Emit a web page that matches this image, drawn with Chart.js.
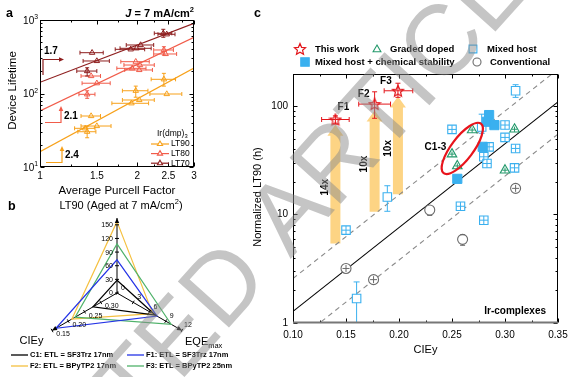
<!DOCTYPE html>
<html lang="en">
<head>
<meta charset="UTF-8">
<title>Device lifetime / radar / LT90 vs CIEy</title>
<script src="https://cdn.jsdelivr.net/npm/chart.js"></script>
<style>
  body { margin: 0; background: #fff; }
  #fig { position: relative; width: 583px; height: 377px; overflow: hidden; }
  #fig canvas { position: absolute; left: 0; top: 0; }
</style>
</head>
<body>
<div id="fig">
  <canvas id="chartA" width="583" height="377"></canvas>
  <canvas id="chartB" width="583" height="377"></canvas>
  <canvas id="chartC" width="583" height="377"></canvas>
  <canvas id="stamp" width="583" height="377"></canvas>
</div>
<script>
const FONT = "'Liberation Sans', Arial, Helvetica, sans-serif";
Chart.defaults.font.family = FONT;
Chart.defaults.color = '#000';
Chart.defaults.animation = false;
Chart.defaults.events = [];
Chart.defaults.plugins.legend.display = false;
Chart.defaults.plugins.tooltip.enabled = false;

// ---------- panel a : lifetime vs average Purcell factor ----------
const purcellTicks = [1, 1.5, 2, 2.5, 3];
const purcellMinor = [1.25, 1.75, 2.25, 2.75];
const lifeTicks = [10, 100, 1000];
const lifeMinor = [20, 30, 40, 50, 60, 70, 80, 90, 200, 300, 400, 500, 600, 700, 800, 900];

const lt90X = [1.38, 1.40, 1.50, 1.44, 1.92, 2.03, 1.98, 2.42, 2.47];
const lt90Y = [33.6, 30.2, 36.1, 49.4, 73.6, 81.6, 109, 156, 98.4];
const lt90Xerr = [0.10, 0.09, 0.16, 0.10, 0.25, 0.23, 0.18, 0.21, 0.28];
const lt90YLo = [null, 25, null, null, null, null, 89, 126, null];
const lt90YHi = [null, 36, null, null, null, null, 126, 188, null];

const lt80X = [1.40, 1.44, 1.50, 1.93, 1.98, 2.04, 2.03, 2.42, 2.45];
const lt80Y = [97.5, 173, 138, 220, 271, 244, 209, 391, 345];
const lt80Xerr = [0.08, 0.10, 0.15, 0.20, 0.20, 0.22, 0.20, 0.17, 0.20];
const lt80YLo = [86, null, null, null, null, null, null, 334, null];
const lt80YHi = [109, null, null, null, null, null, null, 433, null];

const lt70X = [1.45, 1.50, 1.40, 1.91, 1.99, 2.05, 2.41, 2.47];
const lt70Y = [359, 277, 202, 399, 412, 457, 659, 639];
const lt70Xerr = [0.12, 0.14, 0.10, 0.20, 0.22, 0.20, 0.15, 0.15];
const lt70YLo = [null, null, 173, null, null, null, 582, null];
const lt70YHi = [null, null, 224, null, null, null, 747, null];

const fitX = [1, 3];
const fit90 = [16.1, 222];
const fit80 = [58, 582];
const fit70 = [142, 900];

// ---------- panel b : radar ----------
const radarAxes = ['LT90', 'EQEmax', 'CIEy'];
const devNames = ['C1: ETL = SF3Trz 17nm', 'F1: ETL = SF3Trz 17nm', 'F2: ETL = BPyTP2 17nm', 'F3: ETL = BPyTP2 25nm'];
const devLT90 = [28, 73, 157, 108];
const devEQE = [7.1, 7.4, 6.6, 10.0];
const devCIEy = [0.276, 0.162, 0.211, 0.221];
const lt90Ticks = [0, 30, 60, 90, 120, 150];
const eqeTicks = [0, 3, 6, 9, 12];
const cieyTicks = [0.30, 0.25, 0.20, 0.15];

// ---------- panel c : normalized LT90 vs CIEy ----------
const cieTicks = [0.10, 0.15, 0.20, 0.25, 0.30, 0.35];
const cieMinor = [0.125, 0.175, 0.225, 0.275, 0.325];
const ltTicks = [1, 10, 100];
const ltMinor = [2, 3, 4, 5, 6, 7, 8, 9, 20, 30, 40, 50, 60, 70, 80, 90];

const workNames = ['F1', 'F2', 'F3'];
const workX = [0.140, 0.177, 0.199];
const workY = [75, 104, 138];
const workXLo = [0.127, 0.162, 0.186];
const workXHi = [0.153, 0.192, 0.213];
const workYLo = [68, 77, 120];
const workYHi = [81, 135, 162];

const boostFrom = [5.4, 10.6, 15.4];
const boostTo = [67, 91, 122];
const boostText = ['14x', '10x', '10x'];

const gradedX = [0.269, 0.250, 0.255, 0.309, 0.300];
const gradedY = [60, 36, 28, 61, 25.6];

const mixedX = [0.310, 0.278, 0.189, 0.160];
const mixedY = [138, 64, 14.5, 1.68];
const mixedYLo = [120, 56, 10.7, 0.8];
const mixedYHi = [157, 84, 18.4, 2.39];

const hostX = [0.250, 0.285, 0.280, 0.283, 0.300, 0.300, 0.310, 0.309, 0.258, 0.280, 0.150];
const hostY = [60.8, 42, 34, 29.5, 66.7, 51.3, 40.6, 26.9, 11.9, 8.86, 7.17];

const chemX = [0.285, 0.283, 0.290, 0.279, 0.255];
const chemY = [82.4, 71.5, 66.6, 42, 21.3];

const convX = [0.310, 0.229, 0.260, 0.150, 0.176];
const convY = [17.4, 11, 5.9, 3.18, 2.51];
const convYLo = [null, 9.8, 5.2, null, null];
const convYHi = [null, null, 6.5, null, null];
const convCross = [true, false, false, true, true];

const refX = [0.10, 0.35];
const refMid = [1.28, 109];
const refHigh = [2.57, 218];
const refLow = [0.64, 55];

const c13 = {x: 0.2597, y: 40.6};

// ---------- helpers ----------
function pts(xs, ys) { return xs.map((x, i) => ({x, y: ys[i]})); }
function seg(ctx, x1, y1, x2, y2) { ctx.beginPath(); ctx.moveTo(x1, y1); ctx.lineTo(x2, y2); ctx.stroke(); }
function fnt(size, bold, italic) { return `${italic ? 'italic ' : ''}${bold ? 'bold ' : ''}${size}px ${FONT}`; }
function text(ctx, s, x, y, size, o = {}) {
  ctx.font = fnt(size, o.bold, o.italic);
  ctx.fillStyle = o.color || '#000';
  ctx.textAlign = o.align || 'left';
  ctx.textBaseline = 'middle';
  ctx.fillText(s, x, y);
}
function rich(ctx, parts, x, y, size, align = 'left', bold = false) {
  ctx.textAlign = 'left'; ctx.textBaseline = 'middle'; ctx.fillStyle = '#000';
  const fontOf = p => fnt(p.sup || p.sub ? size * 0.68 : size, p.bold ?? bold, p.italic);
  const w = parts.map(p => { ctx.font = fontOf(p); return ctx.measureText(p.t).width; });
  const total = w.reduce((s, v) => s + v, 0);
  let cx = align === 'center' ? x - total / 2 : align === 'right' ? x - total : x;
  parts.forEach((p, i) => {
    ctx.font = fontOf(p);
    ctx.fillText(p.t, cx, y + (p.sup ? -size * 0.38 : p.sub ? size * 0.32 : 0));
    cx += w[i];
  });
}
function head(ctx, x, y, ang, len, wid) {
  const c = Math.cos(ang), s = Math.sin(ang);
  ctx.beginPath();
  ctx.moveTo(x, y);
  ctx.lineTo(x - len * c - wid * s, y - len * s + wid * c);
  ctx.lineTo(x - len * c + wid * s, y - len * s - wid * c);
  ctx.closePath(); ctx.fill();
}
function marker(ctx, style, x, y, r, stroke, fill) {
  ctx.save();
  ctx.strokeStyle = stroke; ctx.fillStyle = fill; ctx.lineWidth = 1.1;
  ctx.beginPath();
  if (style === 'rect') { const h = r * Math.SQRT1_2; ctx.rect(x - h, y - h, 2 * h, 2 * h); }
  else if (style === 'triangle') { for (let k = 0; k < 3; k++) { const a = -Math.PI / 2 + k * 2 * Math.PI / 3; ctx.lineTo(x + r * Math.cos(a), y + r * Math.sin(a)); } ctx.closePath(); }
  else { ctx.arc(x, y, r, 0, 2 * Math.PI); }
  ctx.fill(); ctx.stroke();
  ctx.restore();
}
function starImage(color, size) {
  const c = document.createElement('canvas');
  c.width = c.height = size;
  const g = c.getContext('2d');
  const m = size / 2, R = m - 1, r = R * 0.45;
  g.beginPath();
  for (let k = 0; k < 10; k++) {
    const a = -Math.PI / 2 + k * Math.PI / 5, rr = k % 2 ? r : R;
    g.lineTo(m + rr * Math.cos(a), m + 0.5 + rr * Math.sin(a));
  }
  g.closePath();
  g.fillStyle = '#fff'; g.fill();
  g.strokeStyle = color; g.lineWidth = 1.2; g.stroke();
  return c;
}
function frame(chart, xMaj, xMin, yMaj, yMin, bottomColor) {
  const {ctx, chartArea: a, scales: {x, y}} = chart;
  const L = Math.round(a.left) + 0.5, R = Math.round(a.right) - 0.5;
  const T = Math.round(a.top) + 0.5, B = Math.round(a.bottom) - 0.5;
  ctx.save();
  ctx.strokeStyle = '#000'; ctx.lineWidth = 1;
  ctx.strokeRect(L, T, R - L, B - T);
  const tx = (vals, len) => vals.forEach(v => { const p = Math.round(x.getPixelForValue(v)) + 0.5; seg(ctx, p, B, p, B - len); seg(ctx, p, T, p, T + len); });
  const ty = (vals, len) => vals.forEach(v => { const p = Math.round(y.getPixelForValue(v)) + 0.5; seg(ctx, L, p, L + len, p); seg(ctx, R, p, R - len, p); });
  tx(xMaj, 4); tx(xMin, 2); ty(yMaj, 4); ty(yMin, 2);
  if (bottomColor) { ctx.strokeStyle = bottomColor; ctx.lineWidth = 2; seg(ctx, L - 0.5, B, R + 0.5, B); }
  ctx.restore();
}

// error bars drawn from each dataset's err arrays, through the chart's scales
const errorBars = {
  id: 'errorBars',
  afterDatasetsDraw(chart) {
    const {ctx, chartArea: a, scales: {x, y}} = chart;
    ctx.save();
    ctx.beginPath(); ctx.rect(a.left, a.top, a.width, a.height); ctx.clip();
    chart.data.datasets.forEach(ds => {
      const e = ds.err; if (!e) return;
      ctx.strokeStyle = e.color || ds.borderColor; ctx.lineWidth = 1;
      const cap = e.cap ?? 2.5, gap = e.gap ?? 0;
      ds.data.forEach((p, i) => {
        const px = x.getPixelForValue(p.x), py = y.getPixelForValue(p.y);
        if (e.xLo && e.xLo[i] != null) {
          const l = x.getPixelForValue(e.xLo[i]), r = x.getPixelForValue(e.xHi[i]);
          seg(ctx, l, py, px - gap, py); seg(ctx, px + gap, py, r, py);
          seg(ctx, l, py - cap, l, py + cap); seg(ctx, r, py - cap, r, py + cap);
        }
        if (e.yLo && e.yLo[i] != null) {
          const b = y.getPixelForValue(e.yLo[i]);
          seg(ctx, px, py + gap, px, b); seg(ctx, px - cap, b, px + cap, b);
        }
        if (e.yHi && e.yHi[i] != null) {
          const t = y.getPixelForValue(e.yHi[i]);
          seg(ctx, px, py - gap, px, t); seg(ctx, px - cap, t, px + cap, t);
        }
        if (e.cross && e.cross[i]) {
          const h = e.crossSize || gap;
          seg(ctx, px - h, py, px + h, py); seg(ctx, px, py - h, px, py + h);
        }
      });
    });
    ctx.restore();
  }
};

// ================= panel a =================
const aSeries = [
  {name: 'LT90', color: '#f7a11a', x: lt90X, y: lt90Y, xe: lt90Xerr, lo: lt90YLo, hi: lt90YHi, fit: fit90},
  {name: 'LT80', color: '#f15c4a', x: lt80X, y: lt80Y, xe: lt80Xerr, lo: lt80YLo, hi: lt80YHi, fit: fit80},
  {name: 'LT70', color: '#8e1f1f', x: lt70X, y: lt70Y, xe: lt70Xerr, lo: lt70YLo, hi: lt70YHi, fit: fit70}
];
const datasetsA = [];
aSeries.forEach(s => {
  datasetsA.push({type: 'line', data: pts(fitX, s.fit), borderColor: s.color, borderWidth: 1.2, pointRadius: 0, order: 5});
  datasetsA.push({
    data: pts(s.x, s.y), pointStyle: 'triangle', pointRadius: 3.2, borderWidth: 1,
    borderColor: s.color, backgroundColor: 'rgba(255,255,255,0)', order: 1,
    err: {color: s.color, cap: 2, xLo: s.x.map((v, i) => v - s.xe[i]), xHi: s.x.map((v, i) => v + s.xe[i]), yLo: s.lo, yHi: s.hi}
  });
});

const panelA = {
  id: 'panelA',
  afterDraw(chart) {
    const {ctx, chartArea: a, scales: {y}} = chart;
    frame(chart, purcellTicks, purcellMinor, lifeTicks, lifeMinor);
    ctx.save();
    lifeTicks.forEach(v => rich(ctx, [{t: '10'}, {t: String(Math.round(Math.log10(v))), sup: true}], a.left - 2, y.getPixelForValue(v) + 1, 10, 'right'));
    text(ctx, 'Average Purcell Factor', (a.left + a.right) / 2, 191, 11.5, {align: 'center'});
    ctx.save(); ctx.translate(13, (a.top + a.bottom) / 2 - 3); ctx.rotate(-Math.PI / 2);
    text(ctx, 'Device Lifetime', 0, 0, 11.5, {align: 'center'});
    ctx.restore();
    text(ctx, 'a', 6, 14, 12.5, {bold: true});
    rich(ctx, [{t: 'J', italic: true}, {t: ' = 7 mA/cm'}, {t: '2', sup: true}], a.right, 14, 11, 'right', true);

    // legend
    rich(ctx, [{t: 'Ir(dmp)'}, {t: '3', sub: true}], 157, 134, 8.5);
    aSeries.forEach((s, i) => {
      const ly = 144 + i * 9.6;
      ctx.strokeStyle = s.color; ctx.lineWidth = 1.2;
      seg(ctx, 151, ly, 169, ly);
      marker(ctx, 'triangle', 160, ly, 3, s.color, '#fff');
      text(ctx, s.name, 171, ly, 8.5);
    });

    // slope markers
    ctx.lineWidth = 1.2;
    const L = a.left;
    ctx.strokeStyle = ctx.fillStyle = aSeries[2].color;
    ctx.beginPath(); ctx.moveTo(L + 3, 75); ctx.lineTo(L + 3, 59.5); ctx.lineTo(L + 20, 59.5); ctx.stroke();
    head(ctx, L + 24, 59.5, 0, 5, 2.3);
    text(ctx, '1.7', L + 4, 51.5, 10, {bold: true});
    ctx.strokeStyle = ctx.fillStyle = aSeries[1].color;
    ctx.beginPath(); ctx.moveTo(L + 5, 122.5); ctx.lineTo(L + 21, 122.5); ctx.lineTo(L + 21, 110); ctx.stroke();
    head(ctx, L + 21, 106, -Math.PI / 2, 5, 2.3);
    text(ctx, '2.1', L + 24, 116, 10, {bold: true});
    ctx.strokeStyle = ctx.fillStyle = aSeries[0].color;
    ctx.beginPath(); ctx.moveTo(L + 6, 162.5); ctx.lineTo(L + 22, 162.5); ctx.lineTo(L + 22, 150); ctx.stroke();
    head(ctx, L + 22, 146, -Math.PI / 2, 5, 2.3);
    text(ctx, '2.4', L + 25, 155, 10, {bold: true});
    ctx.restore();
  }
};

new Chart(document.getElementById('chartA'), {
  type: 'scatter',
  data: {datasets: datasetsA},
  options: {
    responsive: false,
    layout: {padding: {left: 15, right: 389, top: 20, bottom: 185}},
    scales: {
      x: {
        type: 'logarithmic', min: 1, max: 3, bounds: 'data',
        afterBuildTicks: s => { s.ticks = purcellTicks.map(v => ({value: v})); },
        afterFit: s => { s.height = 25; },
        grid: {display: false, drawTicks: false}, border: {display: false},
        ticks: {padding: 3, font: {size: 10}, autoSkip: false, maxRotation: 0, callback: v => String(v)}
      },
      y: {
        type: 'logarithmic', min: 10, max: 1000, bounds: 'data',
        afterBuildTicks: s => { s.ticks = lifeTicks.map(v => ({value: v})); },
        afterFit: s => { s.width = 25; },
        grid: {display: false, drawTicks: false}, border: {display: false},
        ticks: {display: false}
      }
    }
  },
  plugins: [errorBars, panelA]
});

// ================= panel b =================
const LT90_TIP = 165, EQE_TIP = 12, CIEY_CENTER = 0.35, CIEY_TIP = 0.15;
const normLT = v => v / LT90_TIP;
const normEQE = v => v / EQE_TIP;
const normCIE = v => (CIEY_CENTER - v) / (CIEY_CENTER - CIEY_TIP);
const devColors = ['#000000', '#2433e6', '#f5c040', '#4fb26a'];
const devOrder = [0, 1, 3, 2];

const panelB = {
  id: 'panelB',
  afterDraw(chart) {
    const {ctx} = chart;
    const s = chart.scales.r;
    const at = (i, n) => s.getPointPosition(i, s.getDistanceFromCenterForValue(n));
    ctx.save();
    ctx.fillStyle = '#000'; ctx.strokeStyle = '#000'; ctx.lineWidth = 1;
    [0, 1, 2].forEach(i => { const p = at(i, 1); head(ctx, p.x, p.y, p.angle, 5, 2.2); });
    const tickAt = (i, n) => {
      const p = at(i, n), nx = -Math.sin(p.angle), ny = Math.cos(p.angle);
      seg(ctx, p.x - 2 * nx, p.y - 2 * ny, p.x + 2 * nx, p.y + 2 * ny);
      return p;
    };
    lt90Ticks.forEach(v => { const p = tickAt(0, normLT(v)); text(ctx, String(v), p.x - 4, p.y + 0.5, 7, {align: 'right'}); });
    eqeTicks.forEach(v => { const p = tickAt(1, normEQE(v)); text(ctx, String(v), p.x + 6, p.y - 5, 7, {align: 'center'}); });
    cieyTicks.forEach(v => { const p = tickAt(2, normCIE(v)); text(ctx, v.toFixed(2), p.x + 11, p.y + 4, 7, {align: 'center'}); });

    rich(ctx, [{t: 'LT90 (Aged at 7 mA/cm'}, {t: '2', sup: true}, {t: ')'}], 121, 206, 11, 'center');
    text(ctx, 'CIEy', 31.5, 341, 11, {align: 'center'});
    rich(ctx, [{t: 'EQE'}, {t: 'max', sub: true}], 185, 342, 11);
    text(ctx, 'b', 8, 207, 12.5, {bold: true});

    devNames.forEach((n, i) => {
      const lx = i % 2 === 0 ? 11 : 127, ly = i < 2 ? 355 : 366;
      ctx.strokeStyle = devColors[i]; ctx.lineWidth = 1.3;
      seg(ctx, lx, ly, lx + 17, ly);
      text(ctx, n, lx + 19, ly, 7.5, {bold: true});
    });
    ctx.restore();
  }
};

new Chart(document.getElementById('chartB'), {
  type: 'radar',
  data: {
    labels: radarAxes,
    datasets: devNames.map((n, i) => ({
      label: n,
      data: [normLT(devLT90[i]), normEQE(devEQE[i]), normCIE(devCIEy[i])],
      borderColor: devColors[i], borderWidth: 1.2, fill: false, pointRadius: 0, order: devOrder[i]
    }))
  },
  options: {
    responsive: false,
    layout: {padding: {left: 42, right: 391, top: 218, bottom: 9}},
    scales: {
      r: {
        min: 0, max: 1,
        ticks: {display: false},
        grid: {display: false},
        angleLines: {color: '#000', lineWidth: 1},
        pointLabels: {display: false}
      }
    }
  },
  plugins: [panelB]
});

// ================= panel c =================
const COL = {star: '#e3161b', graded: '#23996b', host: '#3ab0ef', conv: '#6b6b6b'};
const starImg = starImage(COL.star, 14);

const panelC = {
  id: 'panelC',
  beforeDatasetsDraw(chart) {
    const {ctx, scales: {x, y}} = chart;
    ctx.save();
    ctx.fillStyle = 'rgba(253,204,110,0.85)';
    workX.forEach((v, i) => {
      const px = x.getPixelForValue(v), y0 = y.getPixelForValue(boostFrom[i]), y1 = y.getPixelForValue(boostTo[i]);
      const sw = 5, hw = 8, hh = 11;
      ctx.beginPath();
      ctx.moveTo(px - sw, y0); ctx.lineTo(px - sw, y1 + hh); ctx.lineTo(px - hw, y1 + hh);
      ctx.lineTo(px, y1); ctx.lineTo(px + hw, y1 + hh); ctx.lineTo(px + sw, y1 + hh); ctx.lineTo(px + sw, y0);
      ctx.closePath(); ctx.fill();
      ctx.save();
      ctx.translate(px - 10, (y0 + y1) / 2 + 3); ctx.rotate(-Math.PI / 2);
      text(ctx, boostText[i], 0, 0, 10, {bold: true, align: 'center'});
      ctx.restore();
    });
    ctx.restore();
  },
  afterDraw(chart) {
    const {ctx, chartArea: a, scales: {x, y}} = chart;
    frame(chart, cieTicks, cieMinor, ltTicks, ltMinor, '#777');
    ctx.save();
    // C1-3 ellipse
    const ex = x.getPixelForValue(c13.x), ey = y.getPixelForValue(c13.y);
    ctx.strokeStyle = '#e8141c'; ctx.lineWidth = 2.2;
    ctx.beginPath(); ctx.ellipse(ex, ey, 31, 11, -53 * Math.PI / 180, 0, 2 * Math.PI); ctx.stroke();
    text(ctx, 'C1-3', ex - 16, ey - 1, 10, {bold: true, align: 'right'});
    // F labels
    const off = [[8, -12], [-11, -10], [-12, -10]];
    workNames.forEach((n, i) => {
      text(ctx, n, x.getPixelForValue(workX[i]) + off[i][0], y.getPixelForValue(workY[i]) + off[i][1], 10, {bold: true, align: 'center'});
    });
    text(ctx, 'Ir-complexes', a.right - 12, a.bottom - 12, 10, {bold: true, align: 'right'});

    // axis titles
    text(ctx, 'CIEy', (a.left + a.right) / 2, 350, 11, {align: 'center'});
    ctx.save(); ctx.translate(258, 197); ctx.rotate(-Math.PI / 2);
    text(ctx, 'Normalized LT90 (h)', 0, 0, 11, {align: 'center'});
    ctx.restore();
    text(ctx, 'c', 254, 14, 12.5, {bold: true});

    // legend
    ctx.drawImage(starImg, 300 - 7, 49 - 7);
    text(ctx, 'This work', 315, 49, 9.5, {bold: true});
    marker(ctx, 'triangle', 377, 49.5, 4.5, COL.graded, '#fff');
    text(ctx, 'Graded doped', 390, 49, 9.5, {bold: true});
    marker(ctx, 'rect', 473, 49, 5.5, COL.host, '#fff');
    text(ctx, 'Mixed host', 487, 49, 9.5, {bold: true});
    marker(ctx, 'rect', 305, 62, 6, COL.host, COL.host);
    text(ctx, 'Mixed host + chemical stability', 315, 62, 9.5, {bold: true});
    marker(ctx, 'circle', 477, 62, 4, COL.conv, '#fff');
    text(ctx, 'Conventional', 490, 62, 9.5, {bold: true});
    ctx.restore();
  }
};

new Chart(document.getElementById('chartC'), {
  type: 'scatter',
  data: {
    datasets: [
      {data: pts(workX, workY), pointStyle: starImg, order: 0,
        err: {color: COL.star, cap: 2.5, xLo: workXLo, xHi: workXHi, yLo: workYLo, yHi: workYHi}},
      {data: pts(gradedX, gradedY), pointStyle: 'triangle', pointRadius: 5.5, borderWidth: 1.1,
        borderColor: COL.graded, backgroundColor: '#fff', order: 1,
        err: {color: COL.graded, cross: gradedX.map(() => true), crossSize: 2.6}},
      {data: pts(chemX, chemY), pointStyle: 'rect', pointRadius: 6.5, borderWidth: 1,
        borderColor: COL.host, backgroundColor: COL.host, order: 2},
      {data: pts(mixedX, mixedY), pointStyle: 'rect', pointRadius: 6, borderWidth: 1.1,
        borderColor: COL.host, backgroundColor: '#fff', order: 3,
        err: {color: COL.host, cap: 3, gap: 4.2, yLo: mixedYLo, yHi: mixedYHi}},
      {data: pts(hostX, hostY), pointStyle: 'rect', pointRadius: 6, borderWidth: 1.1,
        borderColor: COL.host, backgroundColor: '#fff', order: 3,
        err: {color: COL.host, cross: hostX.map(() => true), crossSize: 4.2}},
      {data: pts(convX, convY), pointStyle: 'circle', pointRadius: 5, borderWidth: 1.1,
        borderColor: COL.conv, backgroundColor: '#fff', order: 4,
        err: {color: COL.conv, cap: 2.5, gap: 5, yLo: convYLo, yHi: convYHi, cross: convCross, crossSize: 3.5}},
      {type: 'line', data: pts(refX, refMid), borderColor: '#000', borderWidth: 1.1, pointRadius: 0, order: 9},
      {type: 'line', data: pts(refX, refHigh), borderColor: '#8a8a8a', borderWidth: 1.1, borderDash: [5, 4], pointRadius: 0, order: 9},
      {type: 'line', data: pts(refX, refLow), borderColor: '#8a8a8a', borderWidth: 1.1, borderDash: [5, 4], pointRadius: 0, order: 9}
    ]
  },
  options: {
    responsive: false,
    layout: {padding: {left: 263, right: 25, top: 74, bottom: 32}},
    scales: {
      x: {
        type: 'linear', min: 0.10, max: 0.35, bounds: 'data',
        afterBuildTicks: s => { s.ticks = cieTicks.map(v => ({value: v})); },
        afterFit: s => { s.height = 22; },
        grid: {display: false, drawTicks: false}, border: {display: false},
        ticks: {padding: 6, font: {size: 10}, autoSkip: false, maxRotation: 0, callback: v => v.toFixed(2)}
      },
      y: {
        type: 'logarithmic', min: 1, max: 197, bounds: 'data',
        afterBuildTicks: s => { s.ticks = ltTicks.map(v => ({value: v})); },
        afterFit: s => { s.width = 30; },
        grid: {display: false, drawTicks: false}, border: {display: false},
        ticks: {padding: 5, font: {size: 10}, autoSkip: false, callback: v => String(v)}
      }
    }
  },
  plugins: [panelC, errorBars]
});

// ================= retraction watermark =================
(function () {
  const ctx = document.getElementById('stamp').getContext('2d');
  ctx.save();
  ctx.translate(-137, 734);
  ctx.rotate(-48 * Math.PI / 180);
  ctx.font = `100px ${FONT}`;
  ctx.fillStyle = 'rgba(140,140,140,0.5)';
  ctx.textBaseline = 'alphabetic';
  ctx.fillText('RETRACTED ARTICLE', 0, 0);
  ctx.restore();
})();
</script>
</body>
</html>
